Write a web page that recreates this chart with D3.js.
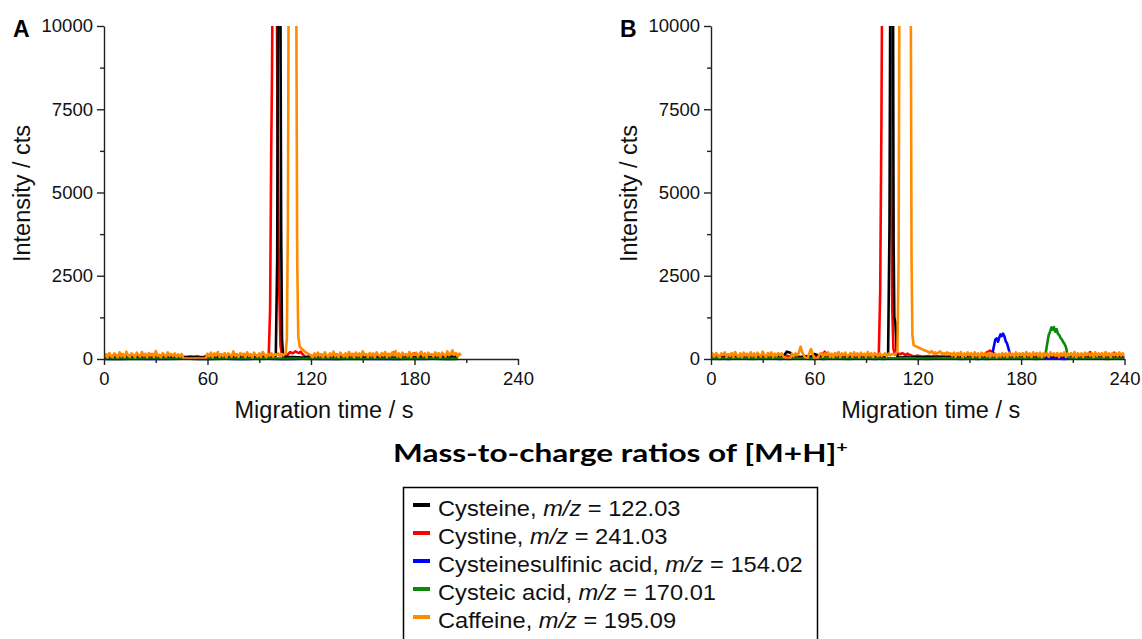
<!DOCTYPE html>
<html><head><meta charset="utf-8">
<script src="https://cdn.jsdelivr.net/npm/d3@7"></script>
<style>body{margin:0;background:#fff}svg{display:block}</style>
</head><body><svg id="c" width="1142" height="639"></svg>
<script>
// ---------- DATA ----------
const seriesNames = ["Cysteine", "Cystine", "Cysteinesulfinic acid", "Cysteic acid", "Caffeine"];
const mzLabels = ["122.03", "241.03", "154.02", "170.01", "195.09"];
const seriesColors = ["#000000", "#ff0000", "#0000ff", "#0a8a0a", "#ff8c00"];
const xTickValues = [0, 60, 120, 180, 240];
const xMinorTicks = [30, 90, 150, 210];
const yTickValues = [0, 2500, 5000, 7500, 10000];
const yMinorTicks = [1250, 3750, 6250, 8750];
const panelLetters = ["A", "B"];
const titleText = "Mass-to-charge ratios of [M+H]";

// Panel A baseline noise [start time, step (s), values] and peak points [t, intensity]
const orangeA_noise = [0, 1, [
 60,150,40,180,90,50,170,110,45,200,80,150,55,220,100,60,170,120,40,190,
 110,70,210,90,160,50,180,100,150,60,240,90,130,45,175,120,70,200,95,150,
 85,170,60,140,75,150,20,8,12,5,15,10,6,18,9,12,7,14,10,16,
 160,80,190,55,170,100,210,65,150,90,180,50,170,120,70,230,95,150,60,180,
 110,160,55,200,90,150,45,190,120,70,170,60,210,130,50,160,95,180,70,150,
 120,170,80,150,110,150,200,0,0,0,0,0,0,0,300,280,250,200,170,140,
 100,50,170,80,190,95,150,45,200,110,60,170,90,220,80,150,55,190,120,70,
 170,60,210,100,150,50,190,90,170,65,230,110,150,55,180,95,170,50,200,120,
 80,180,100,210,55,160,90,190,120,240,70,170,50,190,110,150,85,210,60,170,
 120,190,70,160,220,90,170,50,190,120,150,75,200,100,180,55,190,140,80,230,
 110,170,260,120,180,80,160,110]];
const orangeA_peak = [[104.6,150],[105.3,160],[106.0,600],[106.6,4000],[107.1,12000],[111.4,12000],[112.0,3000],[112.6,700],[113.4,380],[114.3,320],[115.2,280],[116.1,240]];

const redA_noise = [0, 2, [
 80,100,70,120,90,150,80,110,70,100,
 90,130,80,100,150,90,110,70,100,120,
 90,80,60,70,60,75,65,80,60,70,
 110,80,100,70,120,90,80,100,70,110,
 90,120,80,100,70,110,90,80,0,0,
 0,0,0,0,0,0,0,0,0,0,
 100,80,120,90,110,70,100,130,80,110,
 90,100,150,80,120,90,100,70,110,80,
 100,120,90,80,200,110,90,100,80,130,
 170,90,110,80,100,120,90,110,80,100,
 120,90,110,80]];
const redA_peak = [[94,90],[95.5,100],[96.3,1500],[96.9,6000],[97.4,8600],[97.8,12000],[100.1,12000],[100.6,7000],[101.4,2500],[102.3,400],[103.2,120],[104.5,60],[106,100],[107,160],[108,210],[109,170],[110,190],[111,230],[112,200],[113,180],[114,220],[115,150],[116,100],[117,60],[118,70]];

const blackA_noise = [0, 5, [
 50,70,40,60,80,50,60,40,70,50, 60,40,50,70,60,50,80,40,60,50,
 70,50,60,40,80,60,50,70,40,60, 50,70,60,40,50,80,60,50,70,40, 60,50]];
const blackA_peak = [[98,60],[99.6,100],[100.4,3000],[100.9,12000],[102.2,12000],[102.7,4000],[103.2,600],[103.8,120],[105,60]];

const blueA_noise = [0, 5, [
 5,10,0,8,12,4,9,3,7,11, 6,2,4,9,12,5,8,3,10,6,
 4,11,2,7,9,5,12,3,6,10, 8,4,1,9,5,11,7,3,6,10, 4,8]];
const greenA_noise = [0, 5, [
 8,3,11,5,0,9,6,12,2,7, 10,4,8,1,11,6,3,9,5,12,
 7,2,10,6,4,11,8,3,9,5, 1,12,6,8,3,10,4,7,11,2, 9,5]];

// Panel B
const orangeB_noise = [0, 1, [
 50,160,70,180,90,45,170,120,200,60,150,95,180,55,210,110,70,170,50,190,
 100,160,60,200,85,170,50,190,120,70,220,110,60,180,100,200,55,160,90,180,
 110,170,70,50,20,15,25,160,80,170,110,190,370,200,90,30,20,160,300,150,
 20,15,30,150,180,70,170,110,200,65,160,50,180,100,210,60,170,110,190,70,
 120,180,60,200,100,170,50,190,110,160,65,210,100,170,55,180,120,90,170,100,
 120,170,80,160,110,150,0,0,0,0,0,0,0,0,0,0,0,0,0,0,
 0,0,0,0,0,0,220,180,240,170,200,160,190,230,150,180,140,200,160,170,
 100,190,70,180,110,210,55,170,90,200,110,180,60,200,95,170,50,190,100,180,
 80,180,60,170,100,160,45,150,80,180,90,170,60,190,100,160,70,200,90,170,
 110,180,60,210,100,170,55,200,110,180,80,190,50,170,100,180,60,200,110,170,
 90,180,55,175,100,200,60,170,110,180,80,210,50,175,100,170,60,190,110,180,
 100,175,55,200,90,170,110,180,60,210,100,170,50,180,110,175,90,200,100,170,
 90]];
const orangeB_peak = [[105.5,150],[107,120],[108.2,250],[108.9,3000],[109.4,12000],[115.9,12000],[116.4,3000],[116.9,700],[117.6,420],[119,380],[121,330],[123,280],[125,240]];

const blackB_noise = [0, 2, [
 60,40,70,50,80,40,60,50,70,40,
 50,70,40,60,50,80,40,60,50,70,
 40,80,220,190,60,50,40,90,60,40,
 150,110,50,60,40,70,50,60,40,70,
 50,60,40,70,50,60,40,50,60,40,
 50,0,0,0,0,40,50,60,40,50,
 60,40,70,50,60,40,50,70,40,60,
 50,60,40,70,50,60,40,50,70,40,
 60,50,40,70,50,60,40,50,60,40,
 50,70,40,60,50,40,70,50,60,40,
 60,50,40,70,50,60,40,50,70,40,
 50,60,40,70,50,60,40,50,60,40,
 50]];
const blackB_peak = [[101.6,50],[102.8,150],[103.6,4000],[104.1,12000],[105.6,12000],[106.0,3500],[106.4,1250],[107.0,1100],[107.4,700],[107.8,150],[108.4,60]];

const redB_noise = [0, 2, [
 80,60,100,70,90,60,110,80,70,100,
 60,90,80,70,100,60,80,90,70,110,
 80,60,100,70,60,80,70,60,90,80,
 70,90,80,220,80,100,70,90,60,80,
 100,70,90,60,80,100,70,90,80,0,
 0,0,0,0,0,0,0,0,0,0,
 100,80,60,90,70,100,80,60,90,70,
 80,100,60,90,70,80,100,60,90,70,
 200,250,180,80,60,90,70,80,100,60,
 90,70,80,100,60,90,70,80,60,100,
 70,90,80,60,100,70,80,90,60,70,
 210,80,90,70,100,60,80,190,70,90,
 80]];
const redB_peak = [[96.6,80],[97.4,150],[98.2,2000],[98.9,7000],[99.4,12000],[104.0,12000],[104.6,6000],[105.2,1500],[105.9,300],[106.8,150],[108,130],[109,160],[110,140],[111,180],[112,150],[113,120],[114,160],[115,130],[116,110],[117,90],[118,80]];

const blueB_noise = [0, 5, [
 10,20,5,15,25,10,20,15,5,15, 20,10,25,5,15,20,10,25,15,5,
 20,10,15,25,5,20,10,15,25,10, 20,5,0,0,0,0,15,20,10,25, 15,5,20,10,15,25,10,20,15]];
const blueB_peak = [[158.5,15],[160.5,30],[162,60],[163.3,150],[164.2,380],[165,580],[165.8,620],[166.6,520],[167.3,640],[168,740],[168.8,690],[169.5,760],[170.3,680],[171,540],[171.8,470],[172.6,330],[173.4,160],[174.2,50],[175.5,20],[177.5,15]];

const greenB_noise = [0, 5, [
 10,5,15,20,10,5,15,10,20,5, 15,10,5,20,15,10,5,15,10,20,
 5,15,10,25,15,5,10,20,15,5, 10,15,5,20,10,15,25,10,5,0, 0,0,0,15,10,20,5,15,10]];
const greenB_peak = [[191.5,20],[193,40],[194.2,150],[195.2,480],[196,720],[196.8,820],[197.6,950],[198.3,880],[199,960],[199.8,820],[200.6,900],[201.3,760],[202.1,720],[202.9,630],[203.7,580],[204.5,500],[205.3,440],[206,360],[206.7,180],[207.4,60],[208.5,25],[210,15]];

// ---------- BUILD ----------
function merge(noise, peak) {
  const [t0, step, vals] = noise;
  let pts = vals.map((v, i) => [t0 + i * step, v]);
  if (peak && peak.length) {
    const lo = peak[0][0], hi = peak[peak.length - 1][0];
    pts = pts.filter(p => p[0] < lo || p[0] > hi).concat(peak);
  }
  return pts.sort((a, b) => a[0] - b[0]);
}

const panelData = [
  [merge(redA_noise, redA_peak), merge(blackA_noise, blackA_peak), merge(blueA_noise, null), merge(greenA_noise, null), merge(orangeA_noise, orangeA_peak)],
  [merge(redB_noise, redB_peak), merge(blackB_noise, blackB_peak), merge(blueB_noise, blueB_peak), merge(greenB_noise, greenB_peak), merge(orangeB_noise, orangeB_peak)]
];
const drawColorIdx = [1, 0, 2, 3, 4];

const svg = d3.select("#c");
const FONT = "'Liberation Sans', Arial, sans-serif";
const panelBox = [{x0: 104, x1: 518}, {x0: 711, x1: 1124.5}];
const yTop = 26, yBot = 359;

panelBox.forEach((pb, pi) => {
  const x = d3.scaleLinear().domain([0, 240]).range([pb.x0, pb.x1]);
  const y = d3.scaleLinear().domain([0, 10000]).range([yBot, yTop]);
  const g = svg.append("g");
  const clipId = "clip" + pi;
  svg.append("clipPath").attr("id", clipId).append("rect")
    .attr("x", pb.x0).attr("y", yTop).attr("width", pb.x1 - pb.x0).attr("height", yBot - yTop + 3);
  const line = d3.line().x(d => x(d[0])).y(d => y(d[1]));
  const lg = g.append("g").attr("clip-path", `url(#${clipId})`);
  panelData[pi].forEach((s, si) => {
    lg.append("path").datum(s).attr("d", line).attr("fill", "none")
      .attr("stroke", seriesColors[drawColorIdx[si]]).attr("stroke-width", 2.6)
      .attr("stroke-linejoin", "round");
  });

  const styleAxis = a => {
    a.select(".domain").attr("stroke", "#222").attr("stroke-width", 1.4);
    a.selectAll(".tick line").attr("stroke", "#222").attr("stroke-width", 1.4);
    a.selectAll("text").attr("font-family", FONT).attr("font-size", 18.5).attr("fill", "#111");
  };
  const xa = g.append("g").attr("transform", `translate(0,${yBot})`)
    .call(d3.axisBottom(x).tickValues(xTickValues).tickSize(6).tickPadding(7).tickSizeOuter(0));
  styleAxis(xa);
  const xm = g.append("g").attr("transform", `translate(0,${yBot})`)
    .call(d3.axisBottom(x).tickValues(xMinorTicks).tickSize(4).tickFormat(""));
  styleAxis(xm); xm.select(".domain").remove();
  const ya = g.append("g").attr("transform", `translate(${pb.x0},0)`)
    .call(d3.axisLeft(y).tickValues(yTickValues).tickFormat(d3.format("d")).tickSize(7).tickPadding(4).tickSizeOuter(0));
  styleAxis(ya);
  const ym = g.append("g").attr("transform", `translate(${pb.x0},0)`)
    .call(d3.axisLeft(y).tickValues(yMinorTicks).tickSize(4).tickFormat(""));
  styleAxis(ym); ym.select(".domain").remove();

  g.append("text").attr("x", (pb.x0 + pb.x1) / 2 + 13).attr("y", 418).attr("text-anchor", "middle")
    .attr("font-family", FONT).attr("font-size", 23.5).attr("fill", "#111").text("Migration time / s");
  g.append("text").attr("transform", `translate(${pb.x0 - 82},${(yTop + yBot) / 2 + 1}) rotate(-90)`)
    .attr("text-anchor", "middle").attr("dy", "0.35em")
    .attr("font-family", FONT).attr("font-size", 23.5).attr("fill", "#111").text("Intensity / cts");
  g.append("text").attr("x", pb.x0 - 91).attr("y", 37).attr("font-family", FONT)
    .attr("font-weight", "bold").attr("font-size", 23).attr("fill", "#000").text(panelLetters[pi]);
});

// Title (horizontally stretched to match the reference's wide lettering)
const titleG = svg.append("g");
const title = titleG.append("text").attr("x", 0).attr("y", 0)
  .attr("font-family", "Lato, 'Open Sans', sans-serif").attr("font-weight", "bold")
  .attr("font-size", 25.5).attr("fill", "#000");
title.append("tspan").text(titleText);
title.append("tspan").attr("font-size", 16).attr("dy", -10).text("+");
const tw = title.node().getBBox().width;
titleG.attr("transform", `translate(393,462) scale(${455 / tw},1)`);

// Legend
const lgX = 403.5, lgY = 487.5;
svg.append("rect").attr("x", lgX).attr("y", lgY).attr("width", 414).attr("height", 160)
  .attr("fill", "#fff").attr("stroke", "#000").attr("stroke-width", 1.5);
seriesNames.forEach((name, i) => {
  const by = 516 + i * 28;
  svg.append("rect").attr("x", 413).attr("y", by - 13).attr("width", 17).attr("height", 4)
    .attr("fill", seriesColors[i]);
  const t = svg.append("text").attr("transform", `translate(438,${by}) scale(1.1,1)`)
    .attr("font-family", FONT).attr("font-size", 21.5).attr("fill", "#111");
  t.append("tspan").text(name + ", ");
  t.append("tspan").attr("font-style", "italic").text("m/z");
  t.append("tspan").text(" = " + mzLabels[i]);
});
</script></body></html>
